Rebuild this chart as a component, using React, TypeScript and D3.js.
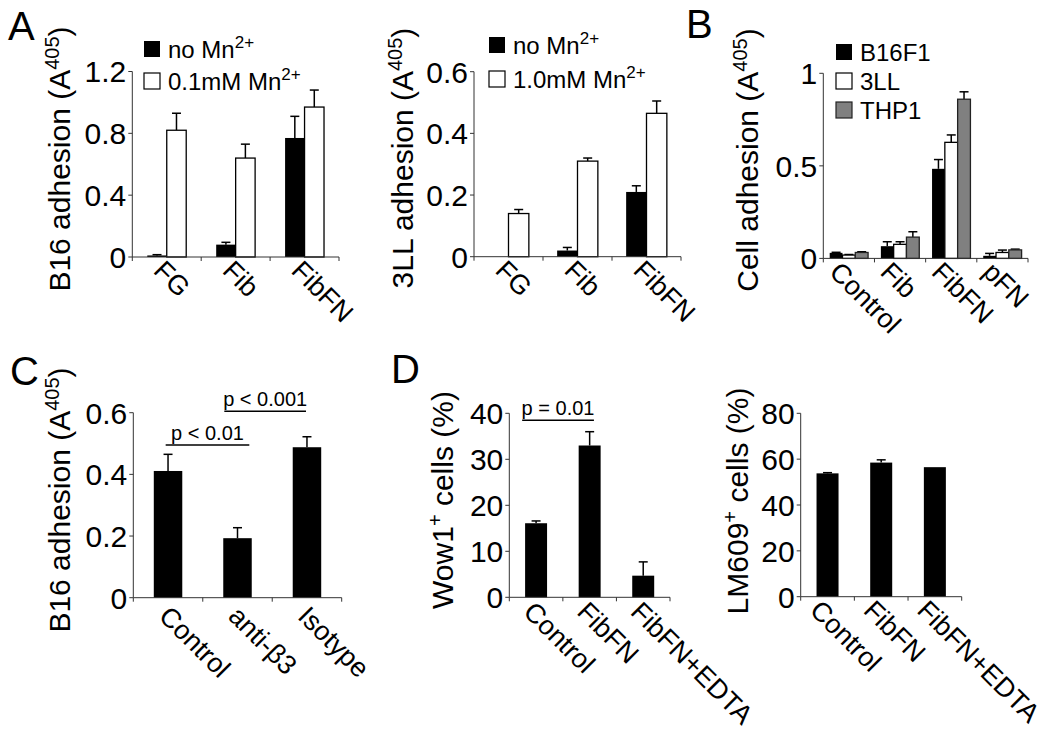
import React from 'react';
import * as d3 from 'd3';

// ---------- Data ----------
// Panel A (left): B16 adhesion
const aCategories = ['FG', 'Fib', 'FibFN'];
const aB16NoMn = [0.01, 0.08, 0.77];
const aB16NoMnErr = [0.005, 0.015, 0.14];
const aB16Mn = [0.82, 0.64, 0.97];
const aB16MnErr = [0.11, 0.09, 0.11];
const aB16Ticks = [0, 0.4, 0.8, 1.2];

// Panel A (middle): 3LL adhesion
const a3LLNoMn = [0, 0.02, 0.21];
const a3LLNoMnErr = [0, 0.01, 0.02];
const a3LLMn = [0.14, 0.31, 0.465];
const a3LLMnErr = [0.013, 0.01, 0.04];
const a3LLTicks = [0, 0.2, 0.4, 0.6];

// Panel B: cell adhesion
const bCategories = ['Control', 'Fib', 'FibFN', 'pFN'];
const bB16F1 = [0.03, 0.066, 0.484, 0.014];
const bB16F1Err = [0.003, 0.024, 0.05, 0.013];
const b3LL = [0.018, 0.076, 0.627, 0.032];
const b3LLErr = [0.003, 0.014, 0.04, 0.013];
const bTHP1 = [0.032, 0.115, 0.86, 0.046];
const bTHP1Err = [0.004, 0.029, 0.04, 0.004];
const bTicks = [0, 0.5, 1];

// Panel C
const cCategories = ['Control', 'anti-\u03b23', 'Isotype'];
const cB16 = [0.411, 0.193, 0.488];
const cB16Err = [0.054, 0.034, 0.034];
const cTicks = [0, 0.2, 0.4, 0.6];
const cSig = [
  { from: 'Control', to: 'anti-\u03b23', value: 0.495, label: 'p < 0.01' },
  { from: 'anti-\u03b23', to: 'Isotype', value: 0.605, label: 'p < 0.001' },
];

// Panel D
const dCategories = ['Control', 'FibFN', 'FibFN+EDTA'];
const dWow1 = [16.1, 33, 4.7];
const dWow1Err = [0.5, 3, 3];
const dWow1Ticks = [0, 10, 20, 30, 40];
const dWow1Sig = [{ from: 'Control', to: 'FibFN', value: 38.5, label: 'p = 0.01' }];
const dLM609 = [53.8, 58.5, 56.5];
const dLM609Err = [0.3, 1.2, 0];
const dLM609Ticks = [0, 20, 40, 60, 80];

// ---------- Styling ----------
const FONT = '"Liberation Sans", Arial, Helvetica, sans-serif';
const AXIS = '#333';

type Series = { name: string; sup?: string; values: number[]; errors: number[]; fill: string; stroke: string };
type Sig = { from: string; to: string; value: number; label: string };

type PanelProps = {
  left: number; right: number; top: number; bottom: number;
  yMax: number; ticks: number[];
  categories: string[];
  series: Series[];
  groupFrac: number;
  title: string; titleSup: string; titleTail: string;
  titleX: number; titleY: number;
  legend?: { x: number; y: number; step: number };
  sig?: Sig[];
  sigFrac?: [number, number][];
  labelDx?: number; labelDy?: number;
};

function BarPanel(p: PanelProps) {
  const x0 = d3.scaleBand<string>().domain(p.categories).range([p.left, p.right]).padding(0);
  const bw = x0.bandwidth();
  const barsW = bw * p.groupFrac;
  const x1 = d3.scaleBand<string>().domain(p.series.map((s) => s.name)).range([0, barsW]).padding(0);
  const y = d3.scaleLinear().domain([0, p.yMax]).range([p.bottom, p.top]);
  const ldx = p.labelDx ?? -14;
  const ldy = p.labelDy ?? 17;
  return (
    <g>
      {/* bars */}
      {p.series.map((s) =>
        p.categories.map((c, i) => {
          const v = s.values[i];
          const bx = (x0(c) as number) + (bw - barsW) / 2 + (x1(s.name) as number);
          const w = x1.bandwidth();
          const cx = bx + w / 2;
          const e = s.errors[i];
          return (
            <g key={s.name + c}>
              {e > 0 && (
                <g stroke="#000" strokeWidth={1.5}>
                  <line x1={cx} x2={cx} y1={y(v)} y2={y(v + e)} />
                  <line x1={cx - 4.5} x2={cx + 4.5} y1={y(v + e)} y2={y(v + e)} />
                </g>
              )}
              {v > 0 && (
                <rect x={bx} y={y(v)} width={w} height={y(0) - y(v)} fill={s.fill} stroke={s.stroke} strokeWidth={s.fill === '#000' ? 0 : 1.3} />
              )}
            </g>
          );
        })
      )}
      {/* axes */}
      <line x1={p.left} x2={p.left} y1={y(0)} y2={y(p.yMax)} stroke={AXIS} strokeWidth={1} />
      <line x1={p.left} x2={p.right} y1={y(0)} y2={y(0)} stroke={AXIS} strokeWidth={1} />
      {p.ticks.map((t) => (
        <g key={'t' + t}>
          <line x1={p.left - 4} x2={p.left} y1={y(t)} y2={y(t)} stroke={AXIS} />
          <text x={p.left - 6} y={y(t)} dy="0.36em" textAnchor="end" fontSize={30} fontFamily={FONT}>
            {String(t)}
          </text>
        </g>
      ))}
      {[...p.categories.map((c) => x0(c) as number), p.right].map((xx, i) => (
        <line key={'xt' + i} x1={xx} x2={xx} y1={y(0)} y2={y(0) + 4} stroke={AXIS} />
      ))}
      {p.categories.map((c) => {
        const cx = (x0(c) as number) + bw / 2;
        return (
          <text key={'xl' + c} transform={`translate(${cx + ldx},${y(0) + ldy}) rotate(45)`} fontSize={27} fontFamily={FONT}>
            {c}
          </text>
        );
      })}
      {/* title */}
      <text transform={`translate(${p.titleX},${p.titleY}) rotate(-90)`} textAnchor="middle" fontSize={30} fontFamily={FONT}>
        {p.title}
        <tspan fontSize={20} dy={-11}>{p.titleSup}</tspan>
        <tspan dy={11}>{p.titleTail}</tspan>
      </text>
      {/* legend */}
      {p.legend &&
        p.series.map((s, i) => {
          const ly = p.legend!.y + i * p.legend!.step;
          return (
            <g key={'lg' + s.name}>
              <rect x={p.legend!.x} y={ly - 8} width={16} height={16} fill={s.fill} stroke={s.fill === '#000' ? 'none' : s.stroke} strokeWidth={1.2} />
              <text x={p.legend!.x + 24} y={ly + 8.5} fontSize={24} fontFamily={FONT}>
                {s.name}
                {s.sup && <tspan fontSize={17} dy={-10}>{s.sup}</tspan>}
              </text>
            </g>
          );
        })}
      {/* significance */}
      {p.sig &&
        p.sig.map((sg, i) => {
          const fr = (p.sigFrac && p.sigFrac[i]) || [0.5, 0.5];
          const xa = (x0(sg.from) as number) + bw * fr[0];
          const xb = (x0(sg.to) as number) + bw * fr[1];
          const yy = y(sg.value);
          return (
            <g key={'sg' + i}>
              <line x1={xa} x2={xb} y1={yy} y2={yy} stroke="#000" strokeWidth={1.5} />
              <text x={(xa + xb) / 2} y={yy - 5} textAnchor="middle" fontSize={20} fontFamily={FONT}>
                {sg.label}
              </text>
            </g>
          );
        })}
    </g>
  );
}

export default function App() {
  return (
    <svg width={1050} height={735} style={{ position: 'absolute', left: 0, top: 0, background: '#fff' }}>
      <rect width={1050} height={735} fill="#fff" />
      <g fontFamily={FONT}>
        <text x={8} y={40} fontSize={40}>A</text>
        <text x={686} y={38} fontSize={40}>B</text>
        <text x={10} y={385} fontSize={40}>C</text>
        <text x={391} y={383} fontSize={40}>D</text>
      </g>
      <BarPanel
        left={132.3} right={339} top={71.5} bottom={257} yMax={1.2} ticks={aB16Ticks}
        categories={aCategories} groupFrac={0.565}
        series={[
          { name: 'no Mn', sup: '2+', values: aB16NoMn, errors: aB16NoMnErr, fill: '#000', stroke: '#000' },
          { name: '0.1mM Mn', sup: '2+', values: aB16Mn, errors: aB16MnErr, fill: '#fff', stroke: '#000' },
        ]}
        title="B16 adhesion (A" titleSup="405" titleTail=")" titleX={70} titleY={159}
        legend={{ x: 144, y: 49, step: 32 }}
        labelDx={-14.5} labelDy={15}
      />
      <BarPanel
        left={474} right={681} top={71.7} bottom={256.7} yMax={0.6} ticks={a3LLTicks}
        categories={aCategories} groupFrac={0.59}
        series={[
          { name: 'no Mn', sup: '2+', values: a3LLNoMn, errors: a3LLNoMnErr, fill: '#000', stroke: '#000' },
          { name: '1.0mM Mn', sup: '2+', values: a3LLMn, errors: a3LLMnErr, fill: '#fff', stroke: '#000' },
        ]}
        title="3LL adhesion (A" titleSup="405" titleTail=")" titleX={413} titleY={158}
        legend={{ x: 489, y: 45, step: 34 }}
        labelDx={-14.5} labelDy={15}
      />
      <BarPanel
        left={823.3} right={1028} top={73.3} bottom={258.4} yMax={1} ticks={bTicks}
        categories={bCategories} groupFrac={0.75}
        series={[
          { name: 'B16F1', values: bB16F1, errors: bB16F1Err, fill: '#000', stroke: '#000' },
          { name: '3LL', values: b3LL, errors: b3LLErr, fill: '#fff', stroke: '#000' },
          { name: 'THP1', values: bTHP1, errors: bTHP1Err, fill: '#808080', stroke: '#222' },
        ]}
        title="Cell adhesion (A" titleSup="405" titleTail=")" titleX={758} titleY={160}
        legend={{ x: 836, y: 52, step: 29 }}
        labelDx={-21} labelDy={15}
      />
      <BarPanel
        left={133.3} right={341.7} top={412.7} bottom={597.7} yMax={0.6} ticks={cTicks}
        categories={cCategories} groupFrac={0.41}
        series={[{ name: 'B16', values: cB16, errors: cB16Err, fill: '#000', stroke: '#000' }]}
        title="B16 adhesion (A" titleSup="405" titleTail=")" titleX={70} titleY={500}
        sig={cSig} sigFrac={[[0.466, 0.67], [0.31, 0.486]]}
        labelDx={-10.5} labelDy={20}
      />
      <BarPanel
        left={509.3} right={670} top={413.3} bottom={597.3} yMax={40} ticks={dWow1Ticks}
        categories={dCategories} groupFrac={0.41}
        series={[{ name: 'Wow1', values: dWow1, errors: dWow1Err, fill: '#000', stroke: '#000' }]}
        title="Wow1" titleSup="+" titleTail=" cells (%)" titleX={453} titleY={500}
        sig={dWow1Sig} sigFrac={[[0.24, 0.58]]}
        labelDx={-14} labelDy={16}
      />
      <BarPanel
        left={800.7} right={961.7} top={413.3} bottom={596.7} yMax={80} ticks={dLM609Ticks}
        categories={dCategories} groupFrac={0.41}
        series={[{ name: 'LM609', values: dLM609, errors: dLM609Err, fill: '#000', stroke: '#000' }]}
        title="LM609" titleSup="+" titleTail=" cells (%)" titleX={748} titleY={501}
        labelDx={-19} labelDy={15}
      />
    </svg>
  );
}
